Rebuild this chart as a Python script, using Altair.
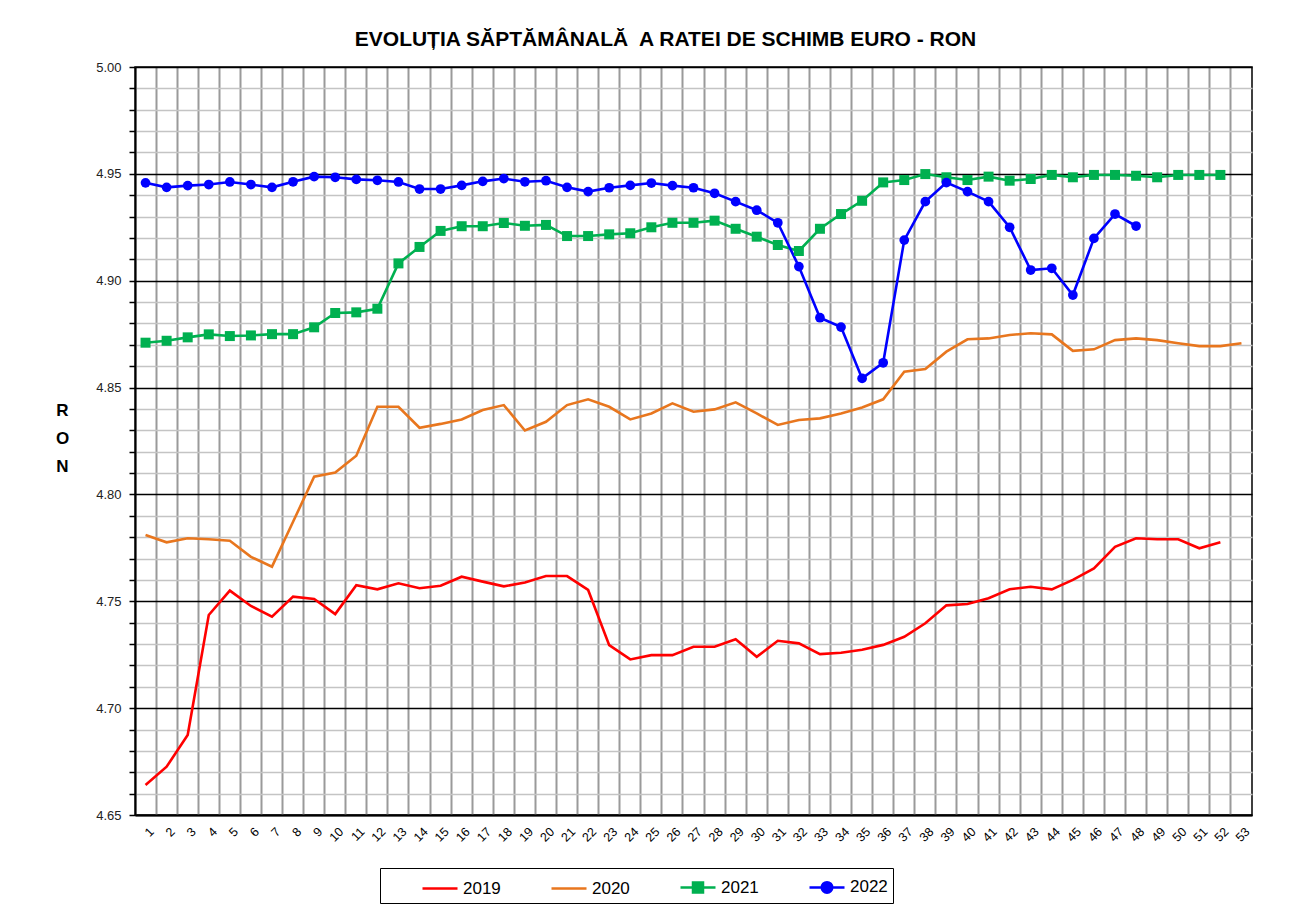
import altair as alt
import pandas as pd

weeks = [str(i) for i in range(1, 54)]
years = ["2019", "2020", "2021", "2022"]
colors = ["#FF0000", "#E8761E", "#00B050", "#0000FF"]

v2019 = [4.6640, 4.6726, 4.6874, 4.7436, 4.7550, 4.7478, 4.7428, 4.7522, 4.7511, 4.7440,
         4.7575, 4.7556, 4.7584, 4.7561, 4.7573, 4.7615, 4.7592, 4.7570, 4.7588, 4.7618,
         4.7618, 4.7553, 4.7295, 4.7228, 4.7248, 4.7248, 4.7287, 4.7287, 4.7322, 4.7240,
         4.7315, 4.7303, 4.7253, 4.7259, 4.7273, 4.7296, 4.7334, 4.7397, 4.7481, 4.7487,
         4.7514, 4.7556, 4.7568, 4.7556, 4.7600, 4.7654, 4.7755, 4.7795, 4.7790, 4.7790,
         4.7748, 4.7776]
v2020 = [4.7810, 4.7776, 4.7795, 4.7790, 4.7783, 4.7708, 4.7662, 4.7872, 4.8083, 4.8102,
         4.8181, 4.8410, 4.8410, 4.8312, 4.8330, 4.8351, 4.8395, 4.8418, 4.8299, 4.8340,
         4.8418, 4.8445, 4.8410, 4.8351, 4.8379, 4.8426, 4.8387, 4.8398, 4.8431, 4.8379,
         4.8325, 4.8348, 4.8356, 4.8379, 4.8407, 4.8445, 4.8574, 4.8587, 4.8668, 4.8726,
         4.8730, 4.8746, 4.8754, 4.8749, 4.8672, 4.8679, 4.8722, 4.8730, 4.8722, 4.8707,
         4.8694, 4.8694, 4.8707]
v2021 = [4.8710, 4.8719, 4.8735, 4.8749, 4.8741, 4.8744, 4.8750, 4.8750, 4.8782, 4.8849,
         4.8852, 4.8869, 4.9081, 4.9158, 4.9233, 4.9255, 4.9255, 4.9270, 4.9257, 4.9261,
         4.9209, 4.9209, 4.9217, 4.9222, 4.9250, 4.9271, 4.9271, 4.9281, 4.9243, 4.9206,
         4.9167, 4.9139, 4.9243, 4.9312, 4.9374, 4.9460, 4.9471, 4.9499, 4.9484, 4.9471,
         4.9487, 4.9468, 4.9476, 4.9495, 4.9484, 4.9495, 4.9495, 4.9491, 4.9484, 4.9495,
         4.9495, 4.9495]
v2022 = [4.9458, 4.9437, 4.9445, 4.9450, 4.9462, 4.9450, 4.9437, 4.9463, 4.9487, 4.9484,
         4.9474, 4.9470, 4.9462, 4.9429, 4.9429, 4.9446, 4.9465, 4.9478, 4.9463, 4.9468,
         4.9437, 4.9417, 4.9435, 4.9446, 4.9457, 4.9445, 4.9435, 4.9409, 4.9370, 4.9330,
         4.9271, 4.9066, 4.8827, 4.8783, 4.8543, 4.8616, 4.9190, 4.9370, 4.9459, 4.9417,
         4.9370, 4.9250, 4.9050, 4.9058, 4.8933, 4.9198, 4.9312, 4.9256]

y_ticks = [round(4.65 + 0.01 * i, 2) for i in range(36)]

rows = []
for yr, vals in zip(years, [v2019, v2020, v2021, v2022]):
    for w, v in zip(weeks, vals):
        rows.append({"week": w, "year": yr, "value": v})
df = pd.DataFrame(rows)

FONT = "Liberation Sans"

x_enc = alt.X(
    "week:O", sort=weeks,
    scale=alt.Scale(type="band", domain=weeks, paddingInner=0, paddingOuter=0),
    axis=alt.Axis(title=None, labelAngle=-45, bandPosition=0, labelOffset=2,
                  grid=True, gridColor="#9a9a9a", gridWidth=2, ticks=False,
                  domainColor="black", domainWidth=2, labelFontSize=12.5,
                  labelColor="black", labelFont=FONT, labelPadding=10),
)
y_enc = alt.Y(
    "value:Q",
    scale=alt.Scale(domain=[4.65, 5.0], nice=False, zero=False),
    axis=alt.Axis(
        values=y_ticks,
        labelExpr="round(datum.value*100) % 5 === 0 ? format(datum.value, '.2f') : ''",
        grid=True,
        gridColor=alt.condition("round(datum.value*100) % 5 === 0", alt.value("#000000"), alt.value("#c4c4c4")),
        gridWidth=1.6,
        tickColor="black", tickSize=6, tickWidth=1.5,
        domainColor="black", domainWidth=2,
        labelFontSize=13, labelFont=FONT, labelColor="#222222", labelPadding=8,
        title=["R", "O", "N"], titleAngle=0, titleFontSize=17, titleFontWeight="bold",
        titleFont=FONT, titleX=-73, titleY=343, titleLineHeight=28,
        titleAlign="center", titleBaseline="middle", titleColor="black",
    ),
)

base = alt.Chart(df)

layers = []
for yr, c in zip(years, colors):
    layers.append(
        base.transform_filter(f"datum.year == '{yr}'").mark_line(strokeWidth=2.6, color=c)
        .encode(x=x_enc, y=y_enc)
    )
layers.append(
    base.transform_filter("datum.year == '2021'").mark_square(size=100, opacity=1, color=colors[2])
    .encode(x=x_enc, y=y_enc)
)
layers.append(
    base.transform_filter("datum.year == '2022'").mark_circle(size=95, opacity=1, color=colors[3])
    .encode(x=x_enc, y=y_enc)
)

line_path = "M-1.4,0H1.4"
sq_path = "M-1.4,0H1.4M-0.4,-0.4H0.4V0.4H-0.4Z"
ci_path = "M-1.4,0H1.4M0.42,0A0.42,0.42,0,1,1,-0.42,0A0.42,0.42,0,1,1,0.42,0Z"

legend_props = dict(
    title=None, orient="none", legendX=245, legendY=801, direction="horizontal",
    strokeColor="black", padding=5, symbolOffset=41, columnPadding=13,
    labelFontSize=17, labelFont=FONT, labelColor="black", labelOffset=9,
    symbolSize=625, symbolStrokeWidth=2.5, cornerRadius=0,
)
legend_layer = base.transform_filter("datum.year == 'none'").mark_point(
    filled=True, strokeWidth=2.5, opacity=1
).encode(
    x=x_enc, y=y_enc,
    color=alt.Color("year:N", scale=alt.Scale(domain=years, range=colors), legend=alt.Legend(**legend_props)),
    stroke=alt.Stroke("year:N", scale=alt.Scale(domain=years, range=colors), legend=alt.Legend(**legend_props)),
    shape=alt.Shape("year:N", scale=alt.Scale(domain=years, range=[line_path, line_path, sq_path, ci_path]),
                    legend=alt.Legend(**legend_props)),
)
layers.append(legend_layer)

chart = alt.layer(*layers).properties(
    width=1117, height=748,
    title=alt.TitleParams(
        "EVOLUȚIA SĂPTĂMÂNALĂ\u00a0 A RATEI DE SCHIMB EURO - RON",
        fontSize=21, font=FONT, fontWeight="bold", anchor="middle", dx=-28,
        offset=11, color="black",
    ),
    autosize=alt.AutoSizeParams(type="none"),
    padding={"left": 127, "top": 59, "right": 48, "bottom": 95},
    background="white",
).configure_view(stroke="black", strokeWidth=1.5)

chart.save("out.html", embed_options={"renderer": "svg", "actions": False})
